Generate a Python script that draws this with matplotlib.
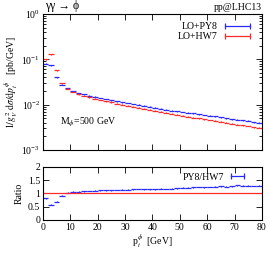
import numpy as np
import matplotlib
matplotlib.use("Agg")
import matplotlib.pyplot as plt
from matplotlib.lines import Line2D
from matplotlib.ticker import MultipleLocator, LogLocator, NullFormatter

# bin edges (2 GeV bins) and bin contents
edges = np.arange(0, 82, 2)
hw7 = [0.100, 0.129, 0.058, 0.030, 0.0227, 0.0190, 0.0170, 0.0156, 0.0145, 0.0136,
       0.0127, 0.0119, 0.0112, 0.0106, 0.0100, 0.0095, 0.0090, 0.0086, 0.0082, 0.0078,
       0.0074, 0.0070, 0.0066, 0.0063, 0.0060, 0.0057, 0.0054, 0.0052, 0.0050, 0.0048,
       0.0046, 0.0044, 0.0042, 0.0040, 0.0038, 0.0036, 0.0035, 0.0034, 0.0032, 0.0031]
py8 = [0.081, 0.074, 0.040, 0.0275, 0.0232, 0.0201, 0.0182, 0.0168, 0.0158, 0.0150,
       0.0141, 0.0133, 0.0125, 0.0120, 0.0114, 0.0109, 0.0104, 0.0100, 0.0095, 0.0090,
       0.0086, 0.0082, 0.0077, 0.0074, 0.0072, 0.0069, 0.0066, 0.0064, 0.0062, 0.0059,
       0.0057, 0.0055, 0.0053, 0.0050, 0.0048, 0.0047, 0.0045, 0.0044, 0.0041, 0.0040]

plt.rcParams['font.family'] = ['Liberation Serif', 'DejaVu Serif']
plt.rcParams['mathtext.fontset'] = 'stix'
plt.rcParams['font.size'] = 7

hw7 = np.array(hw7)
py8 = np.array(py8)
ratio = py8 / hw7
centers = 0.5 * (edges[:-1] + edges[1:])
halfw = 0.5 * np.diff(edges)

fig = plt.figure(figsize=(2.70, 2.56), dpi=100)
ax1 = fig.add_axes([0.159, 0.414, 0.811, 0.531])
ax2 = fig.add_axes([0.159, 0.141, 0.811, 0.207])

blue = '#2a2aff'
red = '#ff2a2a'

ax1.errorbar(centers, py8, xerr=halfw, yerr=py8 * 0.02, fmt='none', ecolor=blue, elinewidth=0.9)
ax1.errorbar(centers, hw7, xerr=halfw, yerr=hw7 * 0.02, fmt='none', ecolor=red, elinewidth=0.9)
ax1.set_yscale('log')
ax1.set_ylim(1e-3, 1)
ax1.set_xlim(0, 80)
ax1.xaxis.set_major_locator(MultipleLocator(10))
ax1.set_xticklabels([])
ax1.yaxis.set_major_locator(LogLocator(base=10))
ax1.yaxis.set_minor_locator(LogLocator(base=10, subs=np.arange(2, 10)))
ax1.yaxis.set_minor_formatter(NullFormatter())
ax1.set_ylabel(r'$1/g_V^2\ \mathrm{d}\sigma/\mathrm{d}p_t^{\phi}$   [pb/GeV]', labelpad=1)
ax1.text(0.01, 1.012, 'γγ → ϕ', transform=ax1.transAxes, ha='left', va='bottom', fontsize=8.5)
ax1.text(1.0, 1.015, 'pp@LHC13', transform=ax1.transAxes, ha='right', va='bottom')
ax1.text(0.08, 0.2, r'M$_\phi$=500 GeV', transform=ax1.transAxes, ha='left', va='center')

# legend handles: horizontal bar with end ticks
h_py8 = Line2D([], [], color=blue, lw=0.9, marker='|', markersize=4, markeredgewidth=0.9)
h_hw7 = Line2D([], [], color=red, lw=0.9, marker='|', markersize=4, markeredgewidth=0.9)
ax1.legend([h_py8, h_hw7], ['LO+PY8', 'LO+HW7'], loc='upper right', frameon=False,
           markerfirst=False, numpoints=2, markerscale=1, handlelength=3.2,
           bbox_to_anchor=(0.985, 0.985), borderaxespad=0.2, labelspacing=0.15,
           handletextpad=0.4)

ax2.errorbar(centers, ratio, xerr=halfw, yerr=0.015, fmt='none', ecolor=blue, elinewidth=0.9)
ax2.axhline(1.0, color=red, lw=0.9)
ax2.set_xlim(0, 80)
ax2.set_ylim(0, 2)
ax2.xaxis.set_major_locator(MultipleLocator(10))
ax2.yaxis.set_major_locator(MultipleLocator(0.5))
ax2.yaxis.set_major_formatter(plt.FuncFormatter(lambda v, p: f'{v:g}'))
ax2.set_ylabel('Ratio', labelpad=3)
ax2.set_xlabel(r'p$_t^\phi$  [GeV]', labelpad=1)
h_r = Line2D([], [], color=blue, lw=0.9, marker='|', markersize=4, markeredgewidth=0.9)
ax2.legend([h_r], ['PY8/HW7'], loc='upper right', frameon=False, markerfirst=False,
           numpoints=2, handlelength=2.0, bbox_to_anchor=(0.96, 1.0),
           borderaxespad=0.2, handletextpad=0.4)

for ax in (ax1, ax2):
    ax.tick_params(which='both', direction='in', top=True, right=True, pad=2, width=0.6)
    ax.tick_params(which='major', length=4)
    ax.tick_params(which='minor', length=2)
    for s in ax.spines.values():
        s.set_linewidth(0.8)

fig.savefig('out.png', dpi=100)
